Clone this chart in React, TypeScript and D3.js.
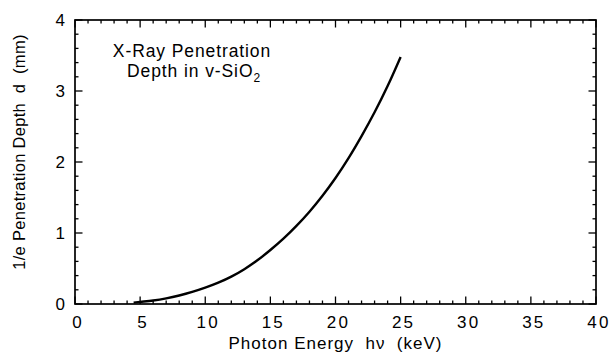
import React from "react";
import * as d3 from "d3";

const energy = [4.5, 5, 6, 7, 8, 9, 10, 11, 12, 13, 14, 15, 16, 17, 18, 19, 20, 21, 22, 23, 24, 25];
const depth = [0.02, 0.03, 0.05, 0.08, 0.12, 0.17, 0.23, 0.3, 0.385, 0.49, 0.615, 0.76, 0.92, 1.1, 1.3, 1.525, 1.775, 2.055, 2.365, 2.7, 3.07, 3.48];
const xTicks = [0, 5, 10, 15, 20, 25, 30, 35, 40];
const yTicks = [0, 1, 2, 3, 4];

const W = 610, H = 353;
const L = 75, R = 596, T = 20, B = 304;
const FONT = "'Liberation Sans', Arial, Helvetica, sans-serif";

export default function App() {
  const x = d3.scaleLinear().domain([0, 40]).range([L, R]);
  const y = d3.scaleLinear().domain([0, 4]).range([B, T]);
  const line = d3.line<number>().x((_, i) => x(energy[i])).y((d) => y(d)).curve(d3.curveCatmullRom);
  const xMinor = d3.range(0, 40.001, 1).filter((v) => Math.abs(v % 5) > 1e-6);
  const yMinor = d3.range(0, 4.001, 0.2).filter((v) => Math.abs(v - Math.round(v)) > 1e-6);
  const maj = 7.5, min = 3.5;
  return (
    <svg width={W} height={H} style={{ position: "absolute", left: 0, top: 0, background: "#fff" }}>
      <g stroke="#000" strokeWidth={1.3}>
        {xTicks.map((t) => (
          <g key={"xm" + t}>
            <line x1={x(t)} x2={x(t)} y1={B} y2={B - maj} />
            <line x1={x(t)} x2={x(t)} y1={T} y2={T + maj} />
          </g>
        ))}
        {xMinor.map((t) => (
          <g key={"xn" + t}>
            <line x1={x(t)} x2={x(t)} y1={B} y2={B - min} />
            <line x1={x(t)} x2={x(t)} y1={T} y2={T + min} />
          </g>
        ))}
        {yTicks.map((t) => (
          <g key={"ym" + t}>
            <line x1={L} x2={L + maj} y1={y(t)} y2={y(t)} />
            <line x1={R} x2={R - maj} y1={y(t)} y2={y(t)} />
          </g>
        ))}
        {yMinor.map((t) => (
          <g key={"yn" + t}>
            <line x1={L} x2={L + min} y1={y(t)} y2={y(t)} />
            <line x1={R} x2={R - min} y1={y(t)} y2={y(t)} />
          </g>
        ))}
      </g>
      <rect x={L} y={T} width={R - L} height={B - T} fill="none" stroke="#000" strokeWidth={1.7} />
      <path d={line(depth) || ""} fill="none" stroke="#000" strokeWidth={2.4} />
      <g fontFamily={FONT} fontSize={17} fill="#000">
        {xTicks.map((t) => (
          <text key={"xl" + t} x={x(t) + 3} y={328} textAnchor="middle" letterSpacing={2.2}>{t}</text>
        ))}
        {yTicks.map((t) => (
          <text key={"yl" + t} x={65} y={y(t) + 6} textAnchor="end">{t}</text>
        ))}
        <text x={(L + R) / 2} y={349} textAnchor="middle" fontSize={17} letterSpacing={1} style={{ whiteSpace: "pre" }}>{"Photon Energy  hν  (keV)"}</text>
        <text transform={`translate(25,152) rotate(-90)`} textAnchor="middle" fontSize={16.5} letterSpacing={0.3} style={{ whiteSpace: "pre" }}>{"1/e Penetration Depth  d  (mm)"}</text>
        <text x={192} y={57} textAnchor="middle" fontSize={17.5} letterSpacing={0.9}>X-Ray Penetration</text>
        <text x={194} y={77} textAnchor="middle" fontSize={17.5} letterSpacing={0.9}>
          Depth in v-SiO<tspan fontSize={12} dy={5}>2</tspan>
        </text>
      </g>
    </svg>
  );
}
